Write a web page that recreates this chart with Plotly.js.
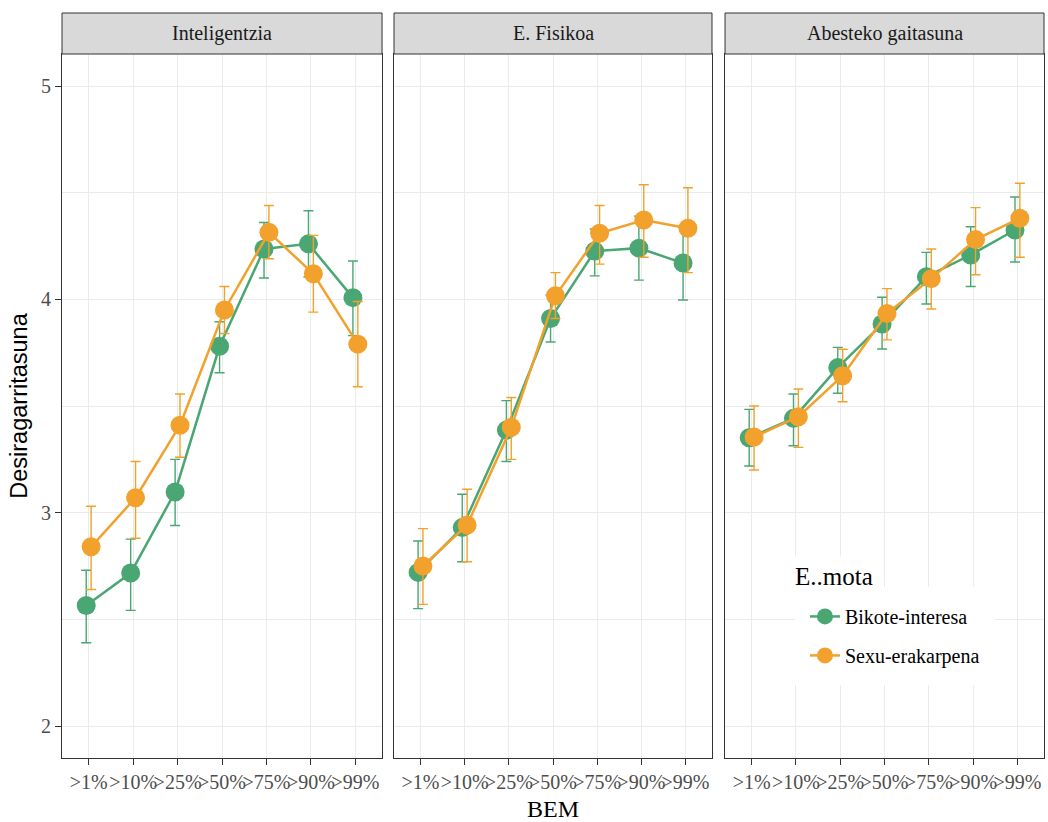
<!DOCTYPE html>
<html>
<head>
<meta charset="utf-8">
<script src="https://cdn.plot.ly/plotly-3.0.1.min.js"></script>
<style>html,body{margin:0;padding:0;background:#fff;}#chart{width:1048px;height:822px;}</style>
</head>
<body>
<div id="chart"></div>
<script>
// ---- data ----
const categories = [">1%", ">10%", ">25%", ">50%", ">75%", ">90%", ">99%"];
const panels = ["Inteligentzia", "E. Fisikoa", "Abesteko gaitasuna"];
const seriesNames = ["Bikote-interesa", "Sexu-erakarpena"];
const legendTitle = "E..mota";

// Bikote-interesa (green): mean, upper, lower per panel
const greenMean = [
  [2.565, 2.717, 3.097, 3.78, 4.236, 4.26, 4.008],
  [2.72, 2.93, 3.387, 3.91, 4.226, 4.24, 4.17],
  [3.351, 3.442, 3.68, 3.884, 4.106, 4.208, 4.325]
];
const greenUpper = [
  [2.73, 2.876, 3.25, 3.895, 4.36, 4.415, 4.18],
  [2.867, 3.086, 3.525, 4.02, 4.33, 4.39, 4.34],
  [3.484, 3.556, 3.775, 4.01, 4.22, 4.34, 4.48]
];
const greenLower = [
  [2.39, 2.542, 2.94, 3.656, 4.10, 4.105, 3.83],
  [2.55, 2.77, 3.24, 3.80, 4.11, 4.09, 3.997],
  [3.219, 3.314, 3.56, 3.767, 3.978, 4.06, 4.175]
];

// Sexu-erakarpena (orange)
const orangeMean = [
  [2.84, 3.07, 3.41, 3.95, 4.314, 4.12, 3.79],
  [2.75, 2.942, 3.40, 4.017, 4.31, 4.372, 4.333],
  [3.355, 3.45, 3.642, 3.934, 4.097, 4.28, 4.38]
];
const orangeUpper = [
  [3.03, 3.24, 3.556, 4.06, 4.44, 4.30, 3.99],
  [2.925, 3.11, 3.54, 4.125, 4.44, 4.537, 4.523],
  [3.50, 3.58, 3.766, 4.05, 4.236, 4.43, 4.544]
];
const orangeLower = [
  [2.64, 2.88, 3.26, 3.84, 4.19, 3.94, 3.59],
  [2.57, 2.77, 3.25, 3.91, 4.165, 4.197, 4.125],
  [3.20, 3.306, 3.52, 3.81, 3.955, 4.115, 4.197]
];

const yTicks = [2, 3, 4, 5];

// ---- styling ----
const GREEN = "#4aa673";
const ORANGE = "#f2a22c";
const FONT = "Liberation Serif, Times New Roman, serif";
const SANS = "Liberation Sans, Arial, sans-serif";
const dodge = 0.055;

const series = [
  {name: seriesNames[0], color: GREEN, mean: greenMean, up: greenUpper, lo: greenLower, off: -dodge},
  {name: seriesNames[1], color: ORANGE, mean: orangeMean, up: orangeUpper, lo: orangeLower, off: dodge}
];

const traces = [];
panels.forEach((p, pi) => {
  series.forEach((s, si) => {
    const m = s.mean[pi];
    const ax = pi === 0 ? "" : String(pi + 1);
    traces.push({
      type: "scatter",
      mode: "lines+markers",
      name: s.name,
      legendgroup: s.name,
      showlegend: pi === 0,
      xaxis: "x" + ax,
      yaxis: "y" + ax,
      x: categories.map((c, i) => i + 1 + s.off),
      y: m,
      line: {color: s.color, width: 2.5},
      marker: {color: s.color, size: 19},
      error_y: {
        type: "data", symmetric: false,
        array: m.map((v, i) => s.up[pi][i] - v),
        arrayminus: m.map((v, i) => v - s.lo[pi][i]),
        color: s.color, thickness: 1.4, width: 5
      },
      hoverinfo: "x+y"
    });
  });
});

const domains = [[0, 0.3259], [0.3381, 0.6619], [0.6752, 1]];

function xaxis(d, anchor) {
  return {
    domain: d,
    range: [0.4, 7.6],
    tickmode: "array",
    tickvals: categories.map((c, i) => i + 1),
    ticktext: categories,
    tickangle: 0,
    showgrid: true, gridcolor: "#ebebeb", gridwidth: 1,
    zeroline: false,
    showline: true, mirror: true, linecolor: "#333333", linewidth: 1,
    ticks: "outside", ticklen: 6, tickcolor: "#333333", tickwidth: 1,
    tickfont: {family: FONT, size: 20, color: "#4d4d4d"},
    anchor: anchor,
    fixedrange: true
  };
}
function yaxis(anchor, labels) {
  return {
    anchor: anchor,
    range: [1.85, 5.15],
    tickmode: "array", tickvals: yTicks, ticktext: yTicks.map(String),
    showticklabels: labels,
    showgrid: true, gridcolor: "#ebebeb", gridwidth: 1,
    minor: {dtick: 0.5, tick0: 0, showgrid: true, gridcolor: "#ebebeb", gridwidth: 1, ticks: ""},
    zeroline: false,
    showline: true, mirror: true, linecolor: "#333333", linewidth: 1,
    ticks: labels ? "outside" : "", ticklen: 6, tickcolor: "#333333",
    tickfont: {family: FONT, size: 20, color: "#4d4d4d"},
    fixedrange: true
  };
}

const layout = {
  width: 1048, height: 822,
  margin: {l: 62, r: 4, t: 54, b: 64},
  paper_bgcolor: "#ffffff",
  plot_bgcolor: "#ffffff",
  font: {family: FONT, color: "#000"},
  showlegend: true,
  legend: {
    x: 0.7464, y: 0.243, xanchor: "left", yanchor: "top",
    bgcolor: "#ffffff", bordercolor: "#ffffff", borderwidth: 10,
    font: {family: FONT, size: 20, color: "#000"},
    traceorder: "grouped", tracegroupgap: 10,
    itemsizing: "trace"
  },
  xaxis: xaxis(domains[0], "y"),
  xaxis2: xaxis(domains[1], "y2"),
  xaxis3: xaxis(domains[2], "y3"),
  yaxis: yaxis("x", true),
  yaxis2: yaxis("x2", false),
  yaxis3: yaxis("x3", false),
  annotations: [],
  shapes: []
};

layout.yaxis.title = {text: "Desiragarritasuna", font: {family: SANS, size: 23.5, color: "#000"}, standoff: 6};
layout.xaxis2.title = {text: "BEM", font: {family: FONT, size: 24, color: "#000"}, standoff: 8};

// legend title
layout.annotations.push({
  xref: "paper", yref: "paper",
  x: (788 - 62) / 982, y: (758 - 576) / 704,
  xanchor: "left", yanchor: "middle", showarrow: false,
  text: legendTitle, bgcolor: "#ffffff", borderpad: 6,
  font: {family: FONT, size: 25, color: "#000"}
});

// strips
const stripTop = 1 + 41 / 704;
panels.forEach((p, pi) => {
  const xr = pi === 0 ? "x domain" : "x" + (pi + 1) + " domain";
  layout.shapes.push({
    type: "rect", xref: xr, yref: "paper",
    x0: 0, x1: 1, y0: 1.0, y1: stripTop,
    fillcolor: "#d9d9d9", line: {color: "#333333", width: 1}, layer: "above"
  });
  layout.annotations.push({
    xref: xr, yref: "paper", x: 0.5, y: (1 + stripTop) / 2,
    text: p, showarrow: false, xanchor: "center", yanchor: "middle",
    font: {family: FONT, size: 20, color: "#1a1a1a"}
  });
});

Plotly.newPlot("chart", traces, layout, {displayModeBar: false, staticPlot: true});
</script>
</body>
</html>
